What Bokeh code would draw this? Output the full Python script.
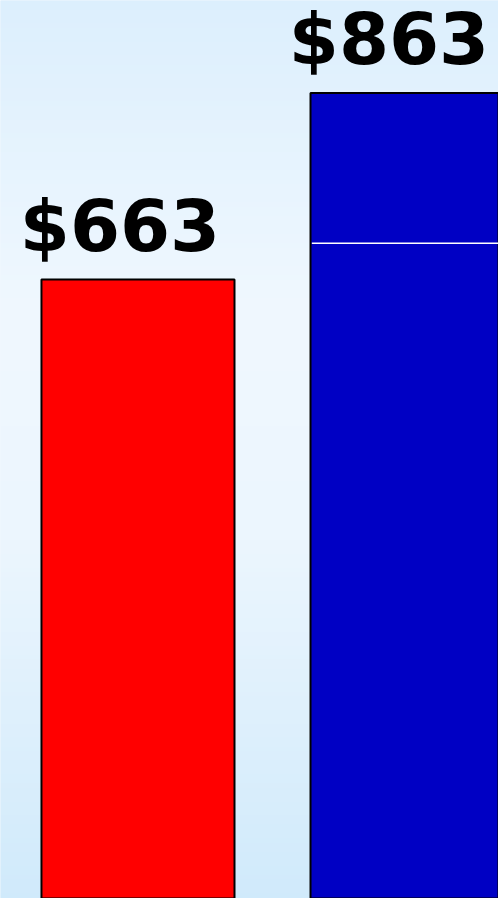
import numpy as np
from bokeh.plotting import figure
from bokeh.models import ColumnDataSource, Range1d
from bokeh.core.properties import value
from bokeh.embed import file_html
from bokeh.resources import INLINE

# --- data ---
categories = ["A", "B"]
values = [663, 863]
labels = ["$663", "$863"]
bar_colors = ["#FF0000", "#0000C4"]
blue_lower_segment = 702  # white divider inside the blue bar

W, H = 498, 898
x_pos = [0, 1]
y_top = 962

p = figure(width=W, height=H, output_backend="svg", toolbar_location=None,
           x_range=Range1d(-0.511, 1.34), y_range=Range1d(0, y_top),
           min_border=0, outline_line_color=None,
           background_fill_color="#E6F3FD", border_fill_color="#E6F3FD")
p.axis.visible = False
p.grid.visible = False

stops_y = [0.0, 0.35, 0.6, 1.0]
stops_c = [(220, 239, 253), (240, 248, 255), (236, 246, 254), (208, 234, 251)]
n = 200
fr = np.linspace(0, 1, n)
img = np.zeros((n, 1), dtype=np.uint32)
view = img.view(dtype=np.uint8).reshape((n, 1, 4))
for ch in range(3):
    col = np.interp(fr, stops_y, [c[ch] for c in stops_c])
    view[:, 0, ch] = col[::-1].astype(np.uint8)
view[:, 0, 3] = 255
p.image_rgba(image=[img], x=-0.6, y=-10, dw=2.1, dh=y_top + 20)

src = ColumnDataSource(dict(x=x_pos, top=values, color=bar_colors, label=labels))
p.vbar(x="x", top="top", bottom=0, width=0.7175, fill_color="color",
       line_color="black", line_width=2, source=src)

p.segment(x0=[x_pos[1] - 0.7175 / 2 + 0.005], x1=[1.34], y0=[blue_lower_segment],
          y1=[blue_lower_segment], line_color="white", line_width=1.5)

p.text(x="x", y="top", text="label", source=src, text_align="center",
       text_baseline="alphabetic", y_offset=-54, x_offset=-18,
       text_font=value("DejaVu Sans"), text_font_style="bold",
       text_font_size="72px", text_color="black")

open("out.html", "w").write(file_html(p, INLINE))
